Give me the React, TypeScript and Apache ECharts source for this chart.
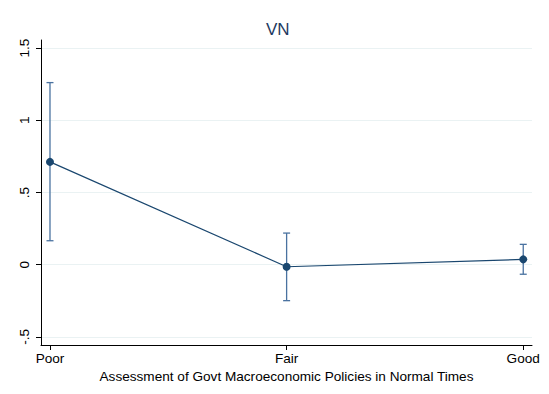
import React, { useEffect, useRef } from "react";
import * as echarts from "echarts";

const categories = ["Poor", "Fair", "Good"];
const positions = [1, 2, 3];
const means = [0.712, -0.014, 0.037];
const lowerCI = [0.166, -0.249, -0.066];
const upperCI = [1.261, 0.219, 0.141];
const yTicks = [-0.5, 0, 0.5, 1, 1.5];
const yTickLabels = ["-.5", "0", ".5", "1", "1.5"];

export default function App() {
  const ref = useRef<HTMLDivElement>(null);
  useEffect(() => {
    if (!ref.current) return;
    const chart = echarts.init(ref.current, null, { renderer: "svg" });
    const font = "Liberation Sans, Arial, sans-serif";
    const ciData = positions.map((p, i) => [p, lowerCI[i], upperCI[i]]);
    const lineData = positions.map((p, i) => [p, means[i]]);
    chart.setOption({
      animation: false,
      backgroundColor: "#ffffff",
      title: {
        text: "VN",
        left: 261,
        top: 16,
        textStyle: { fontFamily: font, fontSize: 17, fontWeight: "normal", color: "#1e3a5f" },
      },
      grid: { left: 41, right: 17, top: 40, bottom: 49, containLabel: false },
      xAxis: {
        type: "value",
        min: 0.962,
        max: 3.037,
        name: "Assessment of Govt Macroeconomic Policies in Normal Times",
        nameLocation: "middle",
        nameGap: 22,
        nameTextStyle: { fontFamily: font, fontSize: 13.6, color: "#000" },
        axisLine: { show: true, onZero: false, lineStyle: { color: "#000", width: 1 } },
        axisTick: { show: true, length: 5, customValues: positions, lineStyle: { color: "#000" } },
        axisLabel: {
          customValues: positions,
          margin: 6,
          fontFamily: font,
          fontSize: 13.6,
          color: "#000",
          formatter: (v: number) => categories[positions.indexOf(Math.round(v))] ?? "",
        },
        splitLine: { show: false },
      },
      yAxis: {
        type: "value",
        min: -0.556,
        max: 1.556,
        axisLine: { show: true, onZero: false, lineStyle: { color: "#000", width: 1 } },
        axisTick: { show: true, length: 5, customValues: yTicks, lineStyle: { color: "#000" } },
        axisLabel: {
          customValues: yTicks,
          rotate: 90,
          margin: 10,
          fontFamily: font,
          fontSize: 13.6,
          color: "#000",
          formatter: (v: number) => yTickLabels[yTicks.findIndex((t) => Math.abs(t - v) < 1e-6)] ?? "",
        },
        splitLine: { show: true, lineStyle: { color: "#eaf2f3", width: 1 } },
      },
      series: [
        {
          type: "custom",
          data: ciData,
          encode: { x: 0, y: [1, 2] },
          z: 2,
          renderItem: (params: any, api: any) => {
            const x = api.value(0);
            const lo = api.coord([x, api.value(1)]);
            const hi = api.coord([x, api.value(2)]);
            const hw = 3.5;
            const style = { stroke: "#4a72a0", lineWidth: 1.3 };
            return {
              type: "group",
              children: [
                { type: "line", shape: { x1: lo[0], y1: lo[1], x2: hi[0], y2: hi[1] }, style },
                { type: "line", shape: { x1: lo[0] - hw, y1: lo[1], x2: lo[0] + hw, y2: lo[1] }, style },
                { type: "line", shape: { x1: hi[0] - hw, y1: hi[1], x2: hi[0] + hw, y2: hi[1] }, style },
              ],
            };
          },
        },
        {
          type: "line",
          data: lineData,
          z: 3,
          symbol: "circle",
          symbolSize: 8,
          lineStyle: { color: "#1a476f", width: 1.2 },
          itemStyle: { color: "#1a476f" },
        },
      ],
    });
    return () => chart.dispose();
  }, []);
  return <div ref={ref} style={{ width: 549, height: 394, position: "absolute", left: 0, top: 0 }} />;
}
